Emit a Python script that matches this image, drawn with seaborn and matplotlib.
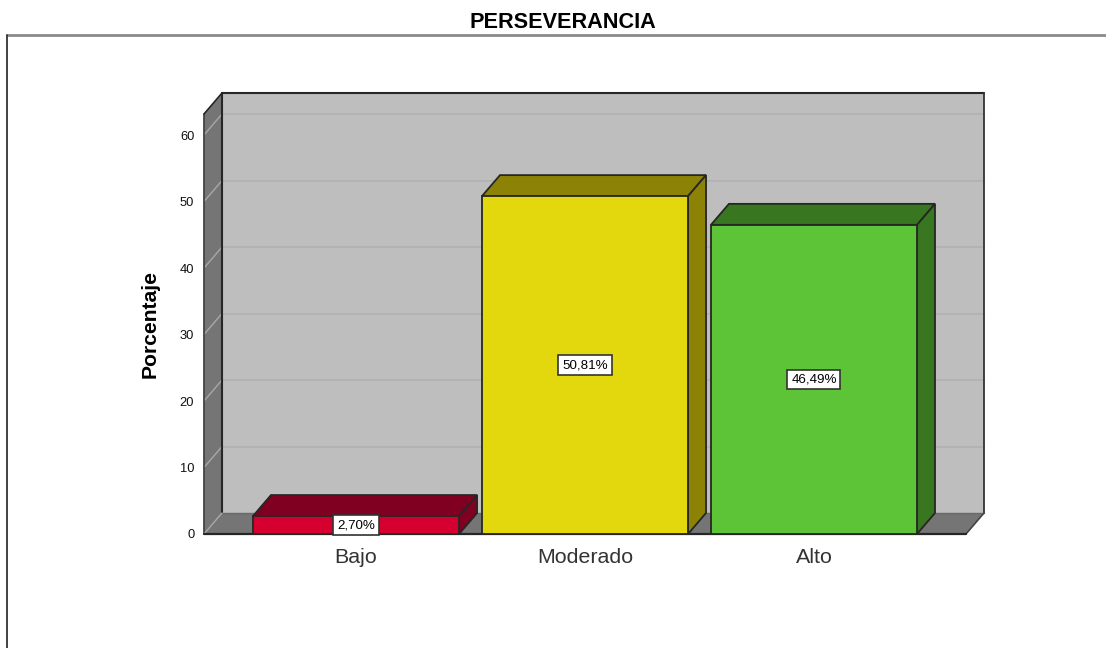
import matplotlib
matplotlib.use("Agg")
import matplotlib.pyplot as plt
import pandas as pd
import seaborn as sns
from matplotlib.lines import Line2D
from matplotlib.patches import Polygon
from matplotlib.transforms import IdentityTransform

categorias = ["Bajo", "Moderado", "Alto"]
porcentajes = [2.70, 50.81, 46.49]
etiquetas = ["2,70%", "50,81%", "46,49%"]
marcas_y = [0, 10, 20, 30, 40, 50, 60]

colores = ["#D5002F", "#E3D80D", "#5DC337"]
colores_sombra = ["#7F0020", "#8C8206", "#38761F"]
BORDE = "#262626"
PARED = "#BEBEBE"
LATERAL = "#757575"
REJILLA = "#B2B2B2"

W, H = 1106, 648
DX, DY = 18, 21  # profundidad del efecto 3D, en pixeles

sns.set_theme(style="white")
plt.rcParams["font.family"] = ["Liberation Sans", "DejaVu Sans"]

fig = plt.figure(figsize=(W / 100, H / 100), dpi=100)
ax = fig.add_axes([204 / W, 1 - 534 / H, 762 / W, 420 / H])
ax.patch.set_visible(False)

df = pd.DataFrame({"categoria": categorias, "porcentaje": porcentajes})
sns.barplot(data=df, x="categoria", y="porcentaje", hue="categoria", palette=colores,
            width=0.9, saturation=1, legend=False, ax=ax, zorder=5,
            edgecolor=BORDE, linewidth=1.3)
ax.set_xlim(-0.664, 2.664)
ax.set_ylim(0, 63.16)


def px(x, y, fondo=False):
    a, b = ax.transData.transform((x, y))
    return (a + DX, b + DY) if fondo else (a, b)


def cara(puntos, color, borde=BORDE, lw=1.3, z=1):
    ax.add_patch(Polygon(puntos, closed=True, facecolor=color, edgecolor=borde, linewidth=lw,
                         transform=IdentityTransform(), zorder=z, clip_on=False))


def linea(p, q, color, lw=1.3, z=2):
    ax.add_line(Line2D([p[0], q[0]], [p[1], q[1]], color=color, linewidth=lw,
                       transform=IdentityTransform(), zorder=z, clip_on=False))


x0, x1 = ax.get_xlim()
y0, y1 = ax.get_ylim()

# paredes y suelo
cara([px(x0, y0, True), px(x1, y0, True), px(x1, y1, True), px(x0, y1, True)], PARED, borde="none")
cara([px(x0, y0), px(x0, y0, True), px(x0, y1, True), px(x0, y1)], LATERAL, borde="none")
cara([px(x0, y0), px(x1, y0), px(x1, y0, True), px(x0, y0, True)], LATERAL, borde="none")

for v in marcas_y[1:]:
    linea(px(x0, v, True), px(x1, v, True), REJILLA, lw=1.3)
    linea(px(x0, v), px(x0, v, True), "#A8A8A8", lw=1)

linea(px(x0, y1, True), px(x1, y1, True), BORDE, lw=1.5, z=3)
linea(px(x0, y0, True), px(x0, y1, True), BORDE, lw=1.5, z=3)
linea(px(x1, y0, True), px(x1, y1, True), "#333333", lw=1.3, z=3)
linea(px(x0, y0, True), px(x1, y0, True), "#6A6A6A", lw=1, z=3)
linea(px(x0, y0), px(x0, y1), "#444444", lw=1.3, z=3)
linea(px(x0, y1), px(x0, y1, True), BORDE, lw=1.2, z=3)
linea(px(x1, y0), px(x1, y0, True), "#444444", lw=1.2, z=3)
linea(px(x0, y0), px(x0, y0, True), "#A8A8A8", lw=1, z=3)
linea(px(x0, y0), px(x1, y0), BORDE, lw=1.6, z=4)

# caras de cada barra, sacadas de los rectangulos de seaborn
for cont, sombra, etiqueta in zip(ax.containers, colores_sombra, etiquetas):
    bar = cont[0]
    a, b = bar.get_x(), bar.get_x() + bar.get_width()
    h = bar.get_height()
    cara([px(a, h), px(b, h), px(b, h, True), px(a, h, True)], sombra, z=4)
    cara([px(b, 0), px(b, 0, True), px(b, h, True), px(b, h)], sombra, z=4)
    ax.bar_label(cont, labels=[etiqueta], label_type="center", fontsize=9.6, color="black", zorder=8,
                 bbox=dict(boxstyle="square,pad=0.28", facecolor="white", edgecolor="#333333", linewidth=1.2))

sns.despine(ax=ax, left=True, bottom=True)
ax.set_yticks(marcas_y)
ax.tick_params(axis="y", length=0, pad=7, labelsize=9.3, labelcolor="#111111")
ax.tick_params(axis="x", length=0, pad=10, labelsize=15.4, labelcolor="#333333")
ax.set_xlabel("")
ax.set_ylabel("Porcentaje", fontsize=15.2, fontweight="bold", color="black")
ax.yaxis.set_label_coords((160 - 204) / 762, 0.5)

# marco de la ventana
fig.add_artist(Line2D([7 / W, 1], [1 - 35 / H, 1 - 35 / H], color="#8A8A8A", linewidth=2))
fig.add_artist(Line2D([7 / W, 7 / W], [1 - 35 / H, 0], color="#333333", linewidth=1.3))
fig.text(563 / W, 1 - 22 / H, "PERSEVERANCIA", ha="center", va="center", fontsize=15.6,
         fontweight="bold", color="black")

fig.savefig("out.png", dpi=100)
